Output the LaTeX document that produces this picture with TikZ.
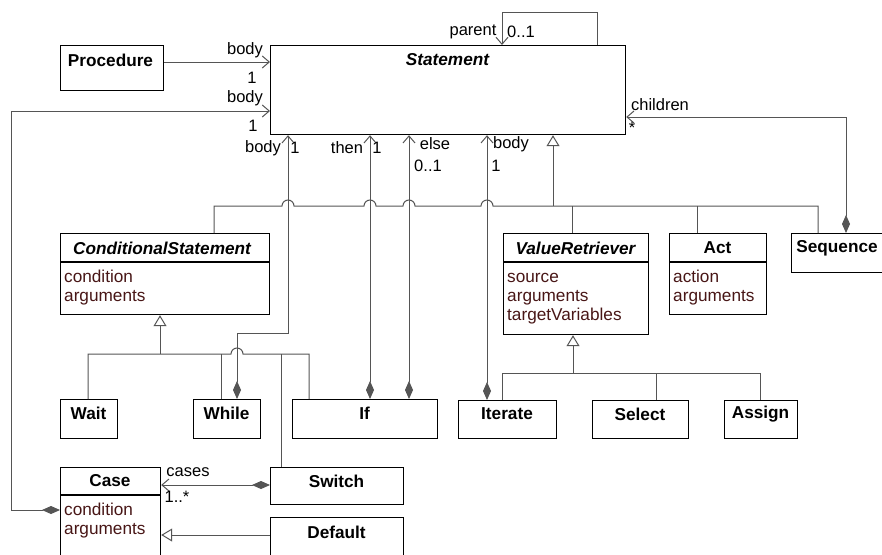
\documentclass[tikz,border=0pt]{standalone}
\usepackage{fontspec}
\setmainfont{Liberation Sans}
\usetikzlibrary{arrows.meta}
\definecolor{ln}{RGB}{85,85,85}
\definecolor{attr}{RGB}{72,22,22}
\begin{document}
\begin{tikzpicture}[x=1pt,y=-1pt,
 font=\fontsize{16.5}{19}\selectfont,
 cls/.style={draw=black, line width=1.2pt, fill=white, inner sep=0, anchor=north west},
 sepl/.style={draw=black, line width=1.2pt},
 ttl/.style={font=\fontsize{17.2}{19}\selectfont\bfseries, inner sep=0},
 ttli/.style={font=\fontsize{17.2}{19}\selectfont\bfseries\itshape, inner sep=0},
 attrtxt/.style={text=attr, anchor=base west, inner sep=0, font=\fontsize{17.2}{19}\selectfont},
 conn/.style={draw=ln, line width=1pt},
 nav/.style={conn, -{Straight Barb[length=7pt,width=12pt]}},
 compnav/.style={conn, {Diamond[length=18pt,width=8pt,fill=ln]}-{Straight Barb[length=7pt,width=12pt]}},
 gen/.style={conn, -{Triangle[open,length=11pt,width=13pt,fill=white]}},
 lbl/.style={inner sep=0}]
\clip (0,0) rectangle (882,554);
\fill[white] (0,0) rectangle (882,554);

% classes
\node[cls, minimum width=355, minimum height=89] (stmt) at (270,45) {};
\node[ttli] (stmtT) at (447.5,60) {Statement};
\node[cls, minimum width=103, minimum height=45] (proc) at (60,45) {};
\node[ttl] (procT) at (110.5,60) {Procedure};

\node[cls, minimum width=209, minimum height=81] (cond) at (60,233) {};
\node[ttli] (condT) at (162,248) {ConditionalStatement};
\draw[sepl] (cond.west |- 0,262) -- (cond.east |- 0,262);
\node[attrtxt] (condA1) at (64,282) {condition};
\node[attrtxt] (condA2) at (64,301) {arguments};

\node[cls, minimum width=145, minimum height=101] (vr) at (503,233) {};
\node[ttli] (vrT) at (575.5,248) {ValueRetriever};
\draw[sepl] (vr.west |- 0,262) -- (vr.east |- 0,262);
\node[attrtxt] (vrA1) at (507,282) {source};
\node[attrtxt] (vrA2) at (507,301) {arguments};
\node[attrtxt] (vrA3) at (507,320) {targetVariables};

\node[cls, minimum width=97, minimum height=81] (act) at (669,233) {};
\node[ttl] (actT) at (717.5,248) {Act};
\draw[sepl] (act.west |- 0,262) -- (act.east |- 0,262);
\node[attrtxt] (actA1) at (673,282) {action};
\node[attrtxt] (actA2) at (673,301) {arguments};

\node[cls, minimum width=93, minimum height=39] (seq) at (791,233) {};
\node[ttl] (seqT) at (837,248) {Sequence};

\node[cls, minimum width=57, minimum height=39] (wait) at (60,399) {};
\node[ttl] (waitT) at (88.5,413) {Wait};
\node[cls, minimum width=67, minimum height=39] (while) at (193,399) {};
\node[ttl] (whileT) at (226.5,413) {While};
\node[cls, minimum width=145, minimum height=39] (if) at (292,399) {};
\node[ttl] (ifT) at (364.5,413) {If};
\node[cls, minimum width=98, minimum height=38] (iter) at (458,400) {};
\node[ttl] (iterT) at (507,414) {Iterate};
\node[cls, minimum width=96, minimum height=38] (sel) at (592,400) {};
\node[ttl] (selT) at (640,414) {Select};
\node[cls, minimum width=73, minimum height=38] (asg) at (724,400) {};
\node[ttl] (asgT) at (760.5,414) {Assign};

\node[cls, minimum width=100, minimum height=100] (case) at (60,467) {};
\node[ttl] (caseT) at (110,481) {Case};
\draw[sepl] (case.west |- 0,495) -- (case.east |- 0,495);
\node[attrtxt] (caseA1) at (64,515) {condition};
\node[attrtxt] (caseA2) at (64,534) {arguments};
\node[cls, minimum width=133, minimum height=37] (sw) at (270,467) {};
\node[ttl] (swT) at (336.5,481) {Switch};
\node[cls, minimum width=133, minimum height=50] (def) at (270,517) {};
\node[ttl] (defT) at (336.5,532) {Default};

% associations
\draw[nav] (proc.east |- 0,62) -- (stmt.west |- 0,62);
\draw[compnav] (case.west |- 0,510) -- (11,510) -- (11,111) -- (stmt.west |- 0,111);
\draw[nav] (stmt.north -| 597,0) -- (597,12) -- (502,12) -- (stmt.north -| 502,0);
\draw[compnav] (seq.north -| 846,0) -- (846,117) -- (stmt.east |- 0,117);
\draw[compnav] (iter.north -| 487,0) -- (stmt.south -| 487,0);
\draw[compnav] (if.north -| 370,0) -- (stmt.south -| 370,0);
\draw[compnav] (if.north -| 409,0) -- (stmt.south -| 409,0);
\draw[compnav] (while.north -| 237,0) -- (237,333) -- (288,333) -- (stmt.south -| 288,0);
\draw[compnav] (sw.west |- 0,485) -- (case.east |- 0,485);
\draw[gen] (def.west |- 0,535) -- (case.east |- 0,535);

% generalizations to Statement
\draw[gen] (553,206) -- (stmt.south -| 553,0);
\draw[conn] (cond.north -| 214,0) -- (214,206) -- (282,206)
  arc[start angle=180,end angle=360,radius=6] -- (364,206)
  arc[start angle=180,end angle=360,radius=6] -- (403,206)
  arc[start angle=180,end angle=360,radius=6] -- (481,206)
  arc[start angle=180,end angle=360,radius=6] -- (818,206) -- (seq.north -| 818,0);
\draw[conn] (vr.north -| 572,0) -- (572,206);
\draw[conn] (act.north -| 697,0) -- (697,206);

% generalizations to ConditionalStatement
\draw[gen] (160,354) -- (cond.south -| 160,0);
\draw[conn] (wait.north -| 88,0) -- (88,354) -- (231,354)
  arc[start angle=180,end angle=360,radius=6] -- (309,354) -- (if.north -| 309,0);
\draw[conn] (while.north -| 221,0) -- (221,354);
\draw[conn] (sw.north -| 281,0) -- (281,354);

% generalizations to ValueRetriever
\draw[gen] (573,373) -- (vr.south -| 573,0);
\draw[conn] (iter.north -| 502,0) -- (502,373) -- (760,373) -- (asg.north -| 760,0);
\draw[conn] (sel.north -| 656,0) -- (656,373);

% labels
\node[lbl] (l1) at (245,50) {body};
\node[lbl] (l2) at (252,78) {1};
\node[lbl] (l3) at (245,98) {body};
\node[lbl] (l4) at (253,126) {1};
\node[lbl] (l5) at (473,32) {parent};
\node[lbl] (l6) at (521,32) {0..1};
\node[lbl] (l7) at (263,148) {body};
\node[lbl] (l8) at (295,148) {1};
\node[lbl] (l9) at (347,148) {then};
\node[lbl] (l10) at (377,148) {1};
\node[lbl] (l11) at (435,144) {else};
\node[lbl] (l12) at (428,166) {0..1};
\node[lbl] (l13) at (511,144) {body};
\node[lbl] (l14) at (496,166) {1};
\node[lbl] (l15) at (660,105) {children};
\node[lbl] (l16) at (632,128) {*};
\node[lbl] (l17) at (188,472) {cases};
\node[lbl] (l18) at (177,497) {1..*};
\end{tikzpicture}
\end{document}
